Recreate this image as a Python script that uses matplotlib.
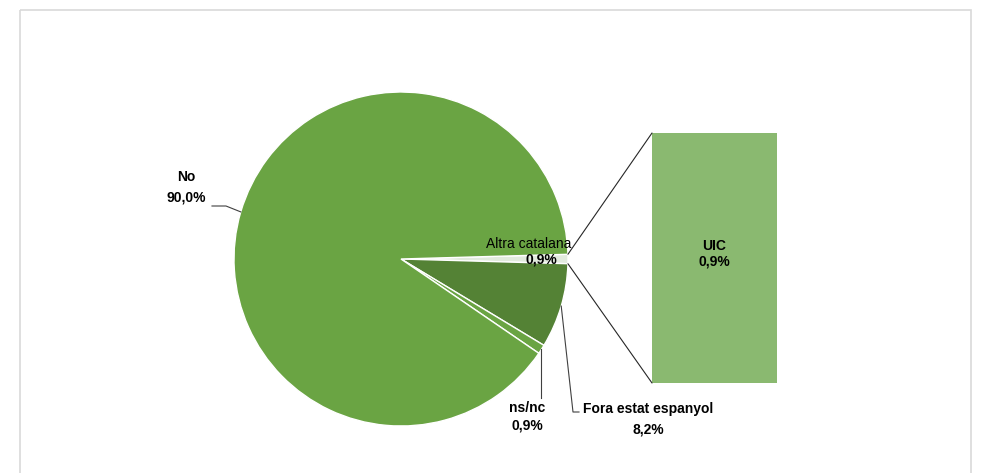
import matplotlib.pyplot as plt
from matplotlib.patches import ConnectionPatch, Rectangle
import numpy as np

# pie slices (clockwise from the right): the "other" slice, then the rest
pie_labels = ['Altra catalana', 'Fora estat espanyol', 'ns/nc', 'No']
pie_values = [0.9, 8.2, 0.9, 90.0]
pie_colors = ['#e2ebde', '#548235', '#6aa443', '#6aa443']

# bar of the "other" slice
bar_labels = ['UIC']
bar_values = [0.9]
bar_color = '#8ab970'

plt.rcParams['font.family'] = ['Liberation Sans', 'DejaVu Sans']

W, H = 990, 473
fig = plt.figure(figsize=(W / 100, H / 100), dpi=100)
ax = fig.add_axes([0, 0, 1, 1])


def Y(y):
    # pixel row (from top) -> data y
    return H - y


cx, cy, r = 401, Y(259), 167
start = pie_values[0] / sum(pie_values) * 360 / 2
wedges, _ = ax.pie(pie_values, colors=pie_colors, startangle=start, counterclock=False,
                   center=(cx, cy), radius=r,
                   wedgeprops=dict(edgecolor='white', linewidth=1.0))
ax.set_xlim(0, W)
ax.set_ylim(0, H)
ax.set_aspect('equal')
ax.axis('off')


def edge(angle_deg, rr=r):
    a = np.radians(angle_deg)
    return cx + rr * np.cos(a), cy + rr * np.sin(a)


def fmt(v):
    return f'{v:.1f}%'.replace('.', ',')


def mid(w):
    return (w.theta1 + w.theta2) / 2


# frame around the chart area
ax.add_patch(Rectangle((19.5, Y(10.5)), 951, -480, fill=False, edgecolor='#d9d9d9',
                       linewidth=1.2, clip_on=False))

fs = 10
lc = '#404040'
# No
px, py = edge(mid(wedges[3]))
ax.plot([px, 226, 212], [py, Y(206), Y(206)], color=lc, lw=0.8)
ax.text(186, Y(177), pie_labels[3], ha='center', va='center', fontsize=fs, fontweight='bold')
ax.text(186, Y(198), fmt(pie_values[3]), ha='center', va='center', fontsize=fs, fontweight='bold')

# Altra catalana (inside the other slice)
ax.text(529, Y(244), pie_labels[0], ha='center', va='center', fontsize=fs)
ax.text(541, Y(260), fmt(pie_values[0]), ha='center', va='center', fontsize=fs, fontweight='bold')

# ns/nc
px, py = edge(mid(wedges[2]))
ax.plot([px, px], [py, Y(398)], color=lc, lw=0.8)
ax.text(527, Y(408), pie_labels[2], ha='center', va='center', fontsize=fs, fontweight='bold')
ax.text(527, Y(426), fmt(pie_values[2]), ha='center', va='center', fontsize=fs, fontweight='bold')

# Fora estat espanyol
px, py = edge(mid(wedges[1]))
ax.plot([px, 573, 579], [py, Y(412), Y(412)], color=lc, lw=0.8)
ax.text(648, Y(409), pie_labels[1], ha='center', va='center', fontsize=fs, fontweight='bold')
ax.text(648, Y(429), fmt(pie_values[1]), ha='center', va='center', fontsize=fs, fontweight='bold')

# bar of pie
bx = fig.add_axes([652 / W, 1 - 383 / H, 125 / W, 250 / H])
bx.bar([0], bar_values, width=1.0, color=bar_color, edgecolor='none')
bx.set_xlim(-0.5, 0.5)
bx.set_ylim(0, sum(bar_values))
bx.axis('off')
bx.text(0, bar_values[0] * 0.55, bar_labels[0], ha='center', va='center', fontsize=fs,
        fontweight='bold')
bx.text(0, bar_values[0] * 0.485, fmt(bar_values[0]), ha='center', va='center', fontsize=fs,
        fontweight='bold')

# connector lines from the other slice to the bar
w0 = wedges[0]
top = edge(max(w0.theta1, w0.theta2))
bot = edge(min(w0.theta1, w0.theta2))
for p, q in [(top, (-0.5, sum(bar_values))), (bot, (-0.5, 0))]:
    con = ConnectionPatch(xyA=p, coordsA=ax.transData, xyB=q, coordsB=bx.transData,
                          color='#262626', lw=0.8)
    fig.add_artist(con)

fig.savefig('out.png', dpi=100, facecolor='white')
